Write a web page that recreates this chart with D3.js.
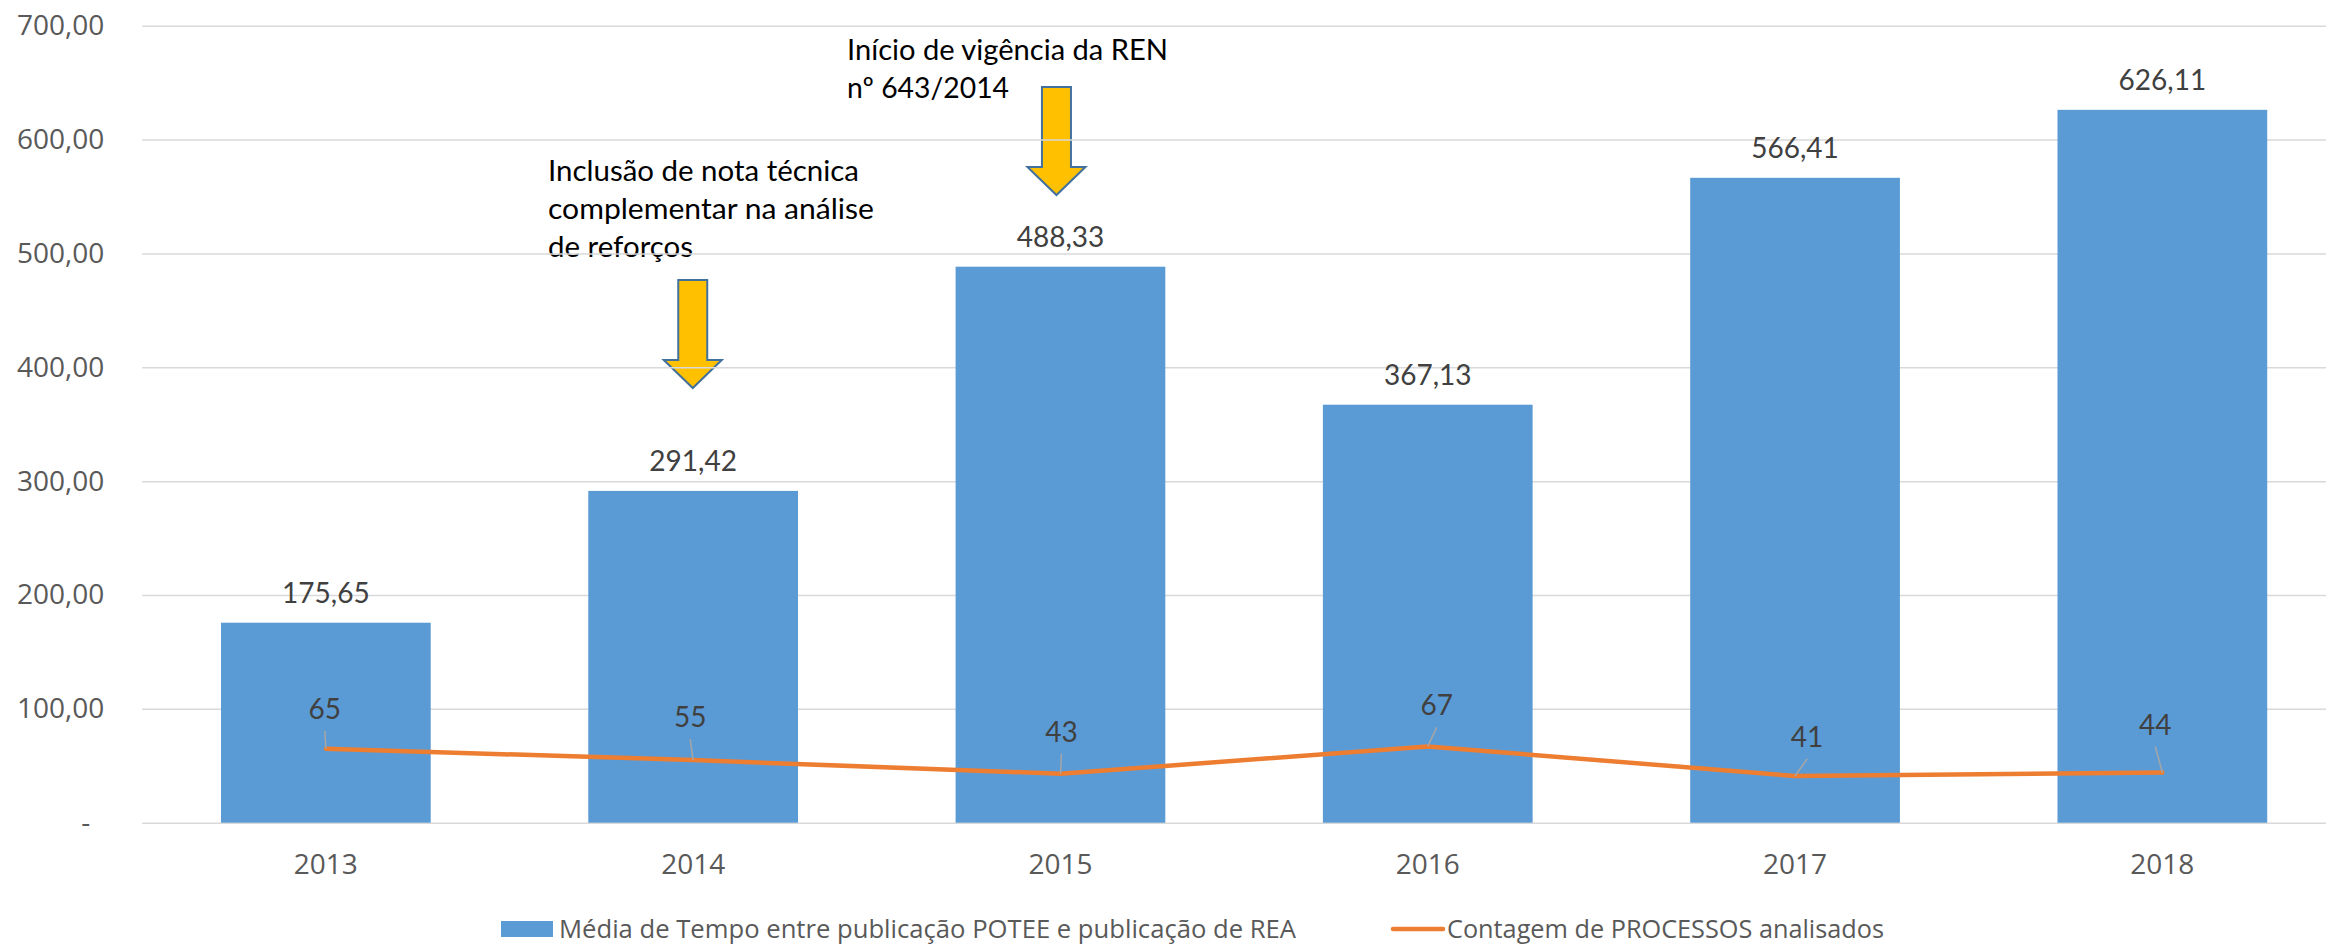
<!DOCTYPE html>
<html>
<head>
<meta charset="utf-8">
<script src="https://cdn.jsdelivr.net/npm/d3@7"></script>
<style>
  body { margin: 0; background: #fff; }
  svg { display: block; }
</style>
</head>
<body>
<svg id="chart"></svg>
<script>
// dados
const anos = ["2013", "2014", "2015", "2016", "2017", "2018"]
const mediaTempo = [175.65, 291.42, 488.33, 367.13, 566.41, 626.11]
const contagemProcessos = [65, 55, 43, 67, 41, 44]
const yTicks = [0, 100, 200, 300, 400, 500, 600, 700]
const nomesSeries = [
    "Média de Tempo entre publicação POTEE e publicação de REA",
    "Contagem de PROCESSOS analisados"
]
const notas = [
    { ano: "2014", linhas: ["Inclusão de nota técnica", "complementar na análise", "de reforços"] },
    { ano: "2015", linhas: ["Início de vigência da REN", "nº 643/2014"] }
]

let svg_width = 2326
let svg_height = 946
let margin_left = 142.2
let plot_right = 2346
let y_top = 25.7
let y_bottom = 822.7

const svg = d3.select("#chart")
    .attr("width", svg_width)
    .attr("height", svg_height)

const br = d3.formatLocale({ decimal: ",", thousands: ".", grouping: [3], currency: ["R$", ""] })
const fmt2 = br.format(",.2f")

let x = d3.scaleBand()
    .domain(anos)
    .range([margin_left, plot_right])
    .paddingInner(0.429)
    .paddingOuter(0.2145)

let y = d3.scaleLinear()
    .domain([0, 700])
    .range([y_bottom, y_top])

const cx = d => x(d) + x.bandwidth() / 2

// anotacoes (setas e caixas de texto) - ficam atras das linhas de grade
const notaLayout = [
    { textX: 548, baseline: 181, widths: [311, 326, 145], arrowDx: -0.4, top: 280, headBase: 360, tip: 388 },
    { textX: 847, baseline: 60, widths: [321, 162], arrowDx: -4, top: 87, headBase: 167, tip: 195 }
]
const gNotas = svg.append("g")
notas.forEach(function (n, i) {
    let L = notaLayout[i]
    let ax = cx(n.ano) + L.arrowDx
    let sw = 14.5, hw = 29
    let pts = [
        [ax - sw, L.top], [ax + sw, L.top], [ax + sw, L.headBase], [ax + hw, L.headBase],
        [ax, L.tip], [ax - hw, L.headBase], [ax - sw, L.headBase]
    ]
    gNotas.append("polygon")
        .attr("points", pts.map(p => p.join(",")).join(" "))
        .style("fill", "#FFC000")
        .style("stroke", "#41719C")
        .style("stroke-width", 2)
    gNotas.selectAll(null)
        .data(n.linhas)
        .enter()
        .append("text")
        .attr("x", L.textX)
        .attr("y", (d, j) => L.baseline + j * 38)
        .attr("textLength", (d, j) => L.widths[j])
        .attr("lengthAdjust", "spacingAndGlyphs")
        .text(d => d)
        .style("fill", "#000")
        .style("font-size", "29px")
        .style("font-family", "Lato, sans-serif")
})

// grade + eixo y
const yAxis = svg.append("g")
    .attr("transform", "translate(" + margin_left + ",0)")
    .call(d3.axisLeft(y)
        .tickValues(yTicks)
        .tickSize(-(plot_right - margin_left))
        .tickPadding(38)
        .tickFormat(d => d === 0 ? "-" : fmt2(d)))
yAxis.select(".domain").remove()
yAxis.selectAll(".tick line")
    .style("stroke", "#D9D9D9")
    .style("stroke-width", 1.5)
yAxis.selectAll(".tick text")
    .attr("dx", d => d === 0 ? -14 : 0)
    .style("fill", "#595959")
    .style("font-size", "28px")
    .style("font-family", "'Open Sans', sans-serif")

// barras
svg.selectAll(".barra")
    .data(mediaTempo)
    .enter()
    .append("rect")
    .attr("class", "barra")
    .attr("x", (d, i) => x(anos[i]))
    .attr("width", x.bandwidth())
    .attr("y", d => y(d))
    .attr("height", d => y(0) - y(d))
    .style("fill", "#5B9BD5")

svg.selectAll(".rotuloBarra")
    .data(mediaTempo)
    .enter()
    .append("text")
    .attr("class", "rotuloBarra")
    .attr("x", (d, i) => cx(anos[i]))
    .attr("y", d => y(d) - 20)
    .attr("text-anchor", "middle")
    .text(d => fmt2(d))
    .style("fill", "#404040")
    .style("font-size", "28px")
    .style("font-family", "Lato, sans-serif")

// eixo x
const xAxis = svg.append("g")
    .attr("transform", "translate(0," + y_bottom + ")")
    .call(d3.axisBottom(x).tickSize(0).tickPadding(31))
xAxis.select(".domain").remove()
xAxis.selectAll(".tick text")
    .style("fill", "#595959")
    .style("font-size", "28px")
    .style("font-family", "'Open Sans', sans-serif")

// linha
let linha = d3.line()
    .x((d, i) => cx(anos[i]))
    .y(d => y(d))
svg.append("path")
    .datum(contagemProcessos)
    .attr("d", linha)
    .style("fill", "none")
    .style("stroke", "#ED7D31")
    .style("stroke-width", 4.5)
    .style("stroke-linejoin", "round")
    .style("stroke-linecap", "round")

// rotulos da linha (deslocados como no original, com linha de chamada)
const nudgeRotulo = [[-1, -30], [-3, -33], [1, -32], [9, -31], [12, -29], [-7, -38]]
svg.selectAll(".chamada")
    .data(contagemProcessos)
    .enter()
    .append("line")
    .attr("class", "chamada")
    .attr("x1", (d, i) => cx(anos[i]) + nudgeRotulo[i][0])
    .attr("y1", (d, i) => y(d) + nudgeRotulo[i][1] + 12)
    .attr("x2", (d, i) => cx(anos[i]))
    .attr("y2", d => y(d))
    .style("stroke", "#A6A6A6")
    .style("stroke-width", 1.5)
svg.selectAll(".rotuloLinha")
    .data(contagemProcessos)
    .enter()
    .append("text")
    .attr("class", "rotuloLinha")
    .attr("x", (d, i) => cx(anos[i]) + nudgeRotulo[i][0])
    .attr("y", (d, i) => y(d) + nudgeRotulo[i][1])
    .attr("text-anchor", "middle")
    .text(d => d)
    .style("fill", "#404040")
    .style("font-size", "28px")
    .style("font-family", "Lato, sans-serif")

// legenda
const legenda = svg.append("g")
legenda.append("rect")
    .attr("x", 501).attr("y", 921)
    .attr("width", 52).attr("height", 16)
    .style("fill", "#5B9BD5")
legenda.append("line")
    .attr("x1", 1393).attr("x2", 1443)
    .attr("y1", 929).attr("y2", 929)
    .style("stroke", "#ED7D31")
    .style("stroke-width", 4.5)
    .style("stroke-linecap", "round")
const legX = [559, 1447]
const legW = [737, 437]
legenda.selectAll(".legTexto")
    .data(nomesSeries)
    .enter()
    .append("text")
    .attr("class", "legTexto")
    .attr("x", (d, i) => legX[i])
    .attr("y", 929)
    .attr("dy", "0.35em")
    .attr("textLength", (d, i) => legW[i])
    .attr("lengthAdjust", "spacingAndGlyphs")
    .text(d => d)
    .style("fill", "#595959")
    .style("font-size", "26px")
    .style("font-family", "'Open Sans', sans-serif")
</script>
</body>
</html>
